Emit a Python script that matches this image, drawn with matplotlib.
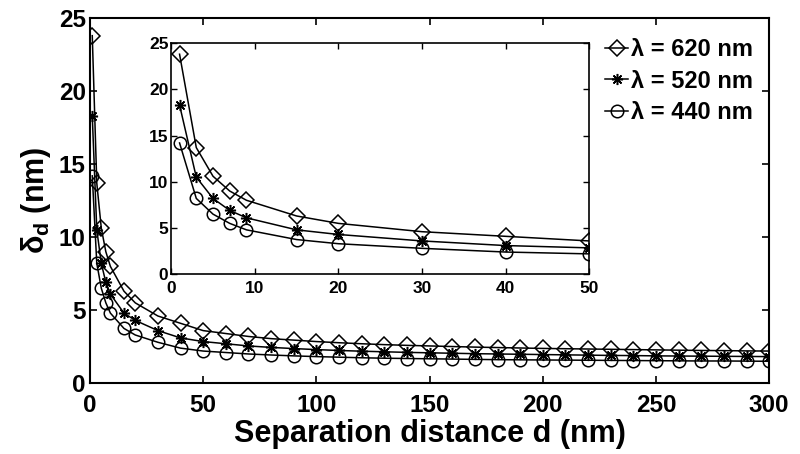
import matplotlib
matplotlib.use("Agg")
import matplotlib.pyplot as plt

plt.rcParams['font.family'] = ['Liberation Sans', 'DejaVu Sans']
plt.rcParams['font.weight'] = 'bold'
plt.rcParams['mathtext.fontset'] = 'custom'
plt.rcParams['mathtext.rm'] = 'Liberation Sans:bold'
plt.rcParams['mathtext.it'] = 'Liberation Sans:bold'
plt.rcParams['mathtext.bf'] = 'Liberation Sans:bold'

# separation distance (nm)
d = [1, 3, 5, 7, 9, 15, 20, 30, 40, 50,
     60, 70, 80, 90, 100, 110, 120, 130, 140, 150, 160, 170, 180,
     190, 200, 210, 220, 230, 240, 250, 260, 270, 280, 290, 300]

delta_620 = [23.8, 13.7, 10.6, 9.0, 8.0, 6.3, 5.5, 4.6, 4.1, 3.6,
             3.4, 3.2, 3.05, 2.95, 2.85, 2.77, 2.7, 2.64, 2.59, 2.55, 2.51, 2.47, 2.44,
             2.41, 2.38, 2.36, 2.34, 2.32, 2.3, 2.28, 2.26, 2.24, 2.23, 2.21, 2.2]
delta_520 = [18.3, 10.5, 8.2, 6.9, 6.1, 4.8, 4.3, 3.6, 3.1, 2.85,
             2.7, 2.55, 2.45, 2.37, 2.3, 2.24, 2.19, 2.15, 2.11, 2.08, 2.05, 2.02, 2.0,
             1.98, 1.96, 1.94, 1.92, 1.9, 1.89, 1.87, 1.86, 1.85, 1.84, 1.83, 1.82]
delta_440 = [14.2, 8.2, 6.5, 5.5, 4.8, 3.75, 3.3, 2.8, 2.4, 2.2,
             2.1, 2.0, 1.93, 1.87, 1.82, 1.78, 1.74, 1.71, 1.69, 1.67, 1.65, 1.63, 1.61,
             1.6, 1.59, 1.58, 1.57, 1.56, 1.55, 1.54, 1.53, 1.52, 1.52, 1.51, 1.5]

labels = [u'\u03bb = 620 nm', u'\u03bb = 520 nm', u'\u03bb = 440 nm']
series = [delta_620, delta_520, delta_440]
markers = ['D', (8, 2, 0), 'o']
msizes = [8, 8, 9]

fig = plt.figure(figsize=(8, 4.54), dpi=100)
ax = fig.add_axes([0.1125, 0.156, 0.849, 0.804])

for y, lab, m, ms in zip(series, labels, markers, msizes):
    ax.plot(d, y, color='black', lw=1.1, marker=m, ms=ms, mfc='none',
            mec='black', mew=1.1, label=lab)

ax.set_xlim(0, 300)
ax.set_ylim(0, 25)
ax.set_xticks(range(0, 301, 50))
ax.set_yticks(range(0, 26, 5))
ax.tick_params(direction='in', top=True, right=True, labelsize=17.5,
               width=1.2, length=5)
ax.tick_params(axis='x', pad=8)
ax.tick_params(axis='y', pad=3)
for s in ax.spines.values():
    s.set_linewidth(1.5)
ax.set_xlabel('Separation distance d (nm)', fontsize=22, fontweight='bold', labelpad=1)
ax.set_ylabel(r'$\delta_d$ (nm)', fontsize=22, fontweight='bold', labelpad=4)

leg = ax.legend(loc='upper right', bbox_to_anchor=(1.0, 0.99), frameon=False,
                fontsize=17, handlelength=1.0, handletextpad=0.1,
                labelspacing=0.35, borderaxespad=0.3)

# inset
n = 10
ins = fig.add_axes([0.214, 0.396, 0.5225, 0.509])
for y, m, ms in zip(series, markers, msizes):
    ins.plot(d[:n], y[:n], color='black', lw=1.1, marker=m, ms=ms, mfc='none',
             mec='black', mew=1.1)
ins.set_xlim(0, 50)
ins.set_ylim(0, 25)
ins.set_xticks(range(0, 51, 10))
ins.set_yticks(range(0, 26, 5))
ins.tick_params(direction='in', top=True, right=True, labelsize=12.5,
                width=1.0, length=4)
ins.tick_params(axis='x', pad=5)
ins.tick_params(axis='y', pad=2)
for s in ins.spines.values():
    s.set_linewidth(1.2)

fig.savefig('out.png', dpi=100)
